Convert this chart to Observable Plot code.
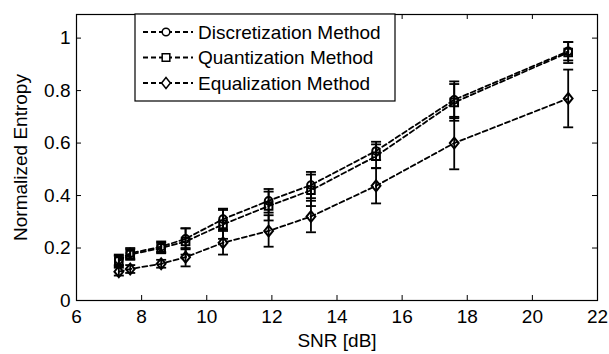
<!DOCTYPE html>
<html>
<head>
<meta charset="utf-8">
<script src="https://cdn.jsdelivr.net/npm/d3@7"></script>
<script src="https://cdn.jsdelivr.net/npm/@observablehq/plot@0.6"></script>
<style>
  html, body { margin: 0; padding: 0; background: #fff; }
</style>
</head>
<body>
<div id="chart"></div>
<script>
// ---- data ----
const snr = [7.3, 7.65, 8.6, 9.35, 10.5, 11.9, 13.2, 15.2, 17.6, 21.1];
const seriesNames = ["Discretization Method", "Quantization Method", "Equalization Method"];
const discretization = [0.155, 0.18, 0.205, 0.235, 0.31, 0.38, 0.44, 0.57, 0.765, 0.95];
const discretizationErr = [0.02, 0.02, 0.02, 0.04, 0.04, 0.045, 0.05, 0.035, 0.07, 0.035];
const quantization = [0.15, 0.175, 0.2, 0.225, 0.29, 0.36, 0.42, 0.55, 0.755, 0.945];
const quantizationErr = [0.02, 0.02, 0.02, 0.05, 0.055, 0.055, 0.06, 0.045, 0.07, 0.04];
const equalization = [0.11, 0.12, 0.14, 0.165, 0.22, 0.265, 0.32, 0.437, 0.60, 0.77];
const equalizationErr = [0.015, 0.015, 0.015, 0.035, 0.045, 0.06, 0.06, 0.067, 0.10, 0.11];
const xTicks = [6, 8, 10, 12, 14, 16, 18, 20, 22];
const yTicks = [0, 0.2, 0.4, 0.6, 0.8, 1];

// ---- build table ----
const valuesBySeries = [discretization, quantization, equalization];
const errBySeries = [discretizationErr, quantizationErr, equalizationErr];
const rows = [];
seriesNames.forEach((name, s) => {
  snr.forEach((x, i) => {
    const v = valuesBySeries[s][i], e = errBySeries[s][i];
    rows.push({series: name, snr: x, value: v, lo: v - e, hi: v + e});
  });
});

// ---- custom symbols ----
const capSymbol = {
  draw(ctx, size) { const w = Math.sqrt(size / Math.PI); ctx.moveTo(-w, 0); ctx.lineTo(w, 0); }
};
const diamondSymbol = {
  draw(ctx, size) {
    const r = Math.sqrt(size / Math.PI);
    const w = r * 1.05, h = r * 1.3;
    ctx.moveTo(0, -h); ctx.lineTo(w, 0); ctx.lineTo(0, h); ctx.lineTo(-w, 0); ctx.closePath();
  }
};
const symbolFor = {"Discretization Method": "circle", "Quantization Method": "square", "Equalization Method": diamondSymbol};
const rFor = {"Discretization Method": 3.8, "Quantization Method": 4.3, "Equalization Method": 4.2};

const W = 609, H = 354;
const mL = 76, mR = 12, mT = 14, mB = 54;
const innerH = H - mT - mB;
const innerW = W - mL - mR;
const tick = 5;
const FONT = "Liberation Sans, Arial, sans-serif";

const marks = [
  Plot.gridX(xTicks, {stroke: "black", strokeOpacity: 1, strokeWidth: 1, insetTop: innerH - tick}),
  Plot.gridX(xTicks, {stroke: "black", strokeOpacity: 1, strokeWidth: 1, insetBottom: innerH - tick}),
  Plot.gridY(yTicks, {stroke: "black", strokeOpacity: 1, strokeWidth: 1, insetRight: innerW - tick}),
  Plot.gridY(yTicks, {stroke: "black", strokeOpacity: 1, strokeWidth: 1, insetLeft: innerW - tick}),
  Plot.axisX(xTicks, {tickSize: 0, tickPadding: 9, label: "SNR [dB]", labelAnchor: "center", labelArrow: "none", labelOffset: 46, fontSize: 19}),
  Plot.axisY(yTicks, {tickSize: 0, tickPadding: 6, label: "Normalized Entropy", labelAnchor: "center", labelArrow: "none", labelOffset: 63, fontSize: 19, tickFormat: d => String(d)}),
  Plot.frame({stroke: "black", strokeWidth: 1.2})
];
seriesNames.forEach(name => {
  const data = rows.filter(d => d.series === name);
  marks.push(
    Plot.line(data, {x: "snr", y: "value", stroke: "black", strokeWidth: 1.8, strokeDasharray: "5,3"}),
    Plot.ruleX(data, {x: "snr", y1: "lo", y2: "hi", stroke: "black", strokeWidth: 1.8}),
    Plot.dot(data, {x: "snr", y: "lo", symbol: capSymbol, r: 5, stroke: "black", strokeWidth: 1.8}),
    Plot.dot(data, {x: "snr", y: "hi", symbol: capSymbol, r: 5, stroke: "black", strokeWidth: 1.8}),
    Plot.dot(data, {x: "snr", y: "value", symbol: symbolFor[name], r: rFor[name], stroke: "black", fill: "none", strokeWidth: 2})
  );
});

const chart = Plot.plot({
  width: W, height: H,
  marginLeft: mL, marginRight: mR, marginTop: mT, marginBottom: mB,
  style: {fontFamily: FONT, fontSize: "19px", color: "black", background: "white"},
  x: {domain: [6, 22]},
  y: {domain: [0, 1.09]},
  marks
});

// ---- legend (inside the plot area, top-left) ----
const svg = d3.select(chart);
const lg = svg.append("g").attr("font-family", FONT).attr("font-size", 19).attr("text-anchor", "start");
const bx = 135, by = 14, bw = 260, bh = 87;
lg.append("rect").attr("x", bx).attr("y", by).attr("width", bw).attr("height", bh)
  .attr("fill", "white").attr("stroke", "black").attr("stroke-width", 1.2);
const legendSymbols = [d3.symbolCircle, d3.symbolSquare, diamondSymbol];
seriesNames.forEach((name, i) => {
  const cy = by + 18 + i * 25.5;
  lg.append("line").attr("x1", bx + 8).attr("x2", bx + 58).attr("y1", cy).attr("y2", cy)
    .attr("stroke", "black").attr("stroke-width", 1.8).attr("stroke-dasharray", "5,3");
  const r = rFor[name];
  lg.append("path").attr("transform", `translate(${bx + 31},${cy})`)
    .attr("d", d3.symbol(legendSymbols[i], Math.PI * r * r)())
    .attr("fill", "white").attr("stroke", "black").attr("stroke-width", 1.5);
  lg.append("text").attr("x", bx + 63).attr("y", cy).attr("dy", "0.35em").attr("fill", "black").attr("text-anchor", "start").text(name);
});

document.getElementById("chart").appendChild(chart);
</script>
</body>
</html>
